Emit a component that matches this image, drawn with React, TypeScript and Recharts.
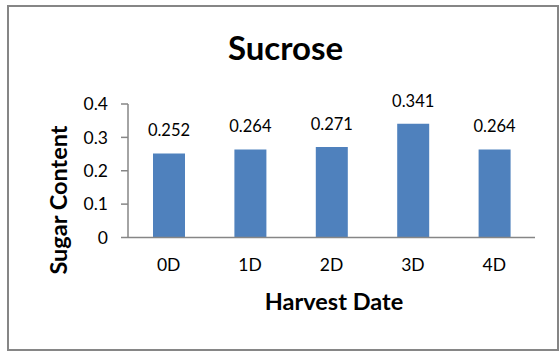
import React from 'react';
import { BarChart, Bar, XAxis, YAxis, LabelList } from 'recharts';

const harvestDates = ['0D', '1D', '2D', '3D', '4D'];
const sucrose = [0.252, 0.264, 0.271, 0.341, 0.264];
const yTicks = [0, 0.1, 0.2, 0.3, 0.4];

const chartTitle = 'Sucrose';
const xTitle = 'Harvest Date';
const yTitle = 'Sugar Content';

const font = 'Lato, "Open Sans", sans-serif';
const axisGrey = '#868686';

const data = harvestDates.map((d, i) => ({ date: d, value: sucrose[i] }));

export default function App() {
  return (
    <div style={{ position: 'absolute', left: 0, top: 0, width: 559, height: 352, background: '#fff', fontFamily: font }}>
      <BarChart
        width={559}
        height={352}
        data={data}
        margin={{ top: 104, right: 24, bottom: 34.5, left: 0 }}
      >
        <XAxis
          dataKey="date"
          height={80}
          tickLine={false}
          tickSize={0}
          tickMargin={21.5}
          axisLine={{ stroke: axisGrey, strokeWidth: 1.5 }}
          tick={{ fill: '#000', fontSize: 17.5, fontFamily: font }}
        />
        <YAxis
          width={128}
          domain={[0, 0.4]}
          ticks={yTicks}
          interval={0}
          tickSize={7}
          tickMargin={13}
          tickFormatter={(v: number) => (v === 0 ? '0' : String(v))}
          axisLine={{ stroke: axisGrey, strokeWidth: 1.5 }}
          tickLine={{ stroke: axisGrey, strokeWidth: 1.5 }}
          tick={{ fill: '#000', fontSize: 17.5, fontFamily: font }}
        />
        <Bar dataKey="value" fill="#4F81BD" barSize={32} isAnimationActive={false}>
          <LabelList
            dataKey="value"
            position="top"
            offset={17}
            formatter={(v: any) => Number(v).toFixed(3)}
            style={{ fill: '#000', fontSize: 16.5, fontFamily: font }}
          />
        </Bar>
      </BarChart>

      <svg
        width={559}
        height={352}
        style={{ position: 'absolute', left: 0, top: 0, pointerEvents: 'none' }}
      >
        <rect x={8} y={6} width={550} height={344} fill="none" stroke={axisGrey} strokeWidth={2} />
        <text x={285.5} y={60} textAnchor="middle" fontSize={33} fontWeight="bold" fontFamily={font} fill="#000">
          {chartTitle}
        </text>
        <text x={334} y={310} textAnchor="middle" fontSize={23.5} fontWeight="bold" fontFamily={font} fill="#000">
          {xTitle}
        </text>
        <text
          transform="translate(67,200) rotate(-90)"
          textAnchor="middle"
          fontSize={23.5}
          fontWeight="bold"
          fontFamily={font}
          fill="#000"
        >
          {yTitle}
        </text>
      </svg>
    </div>
  );
}
